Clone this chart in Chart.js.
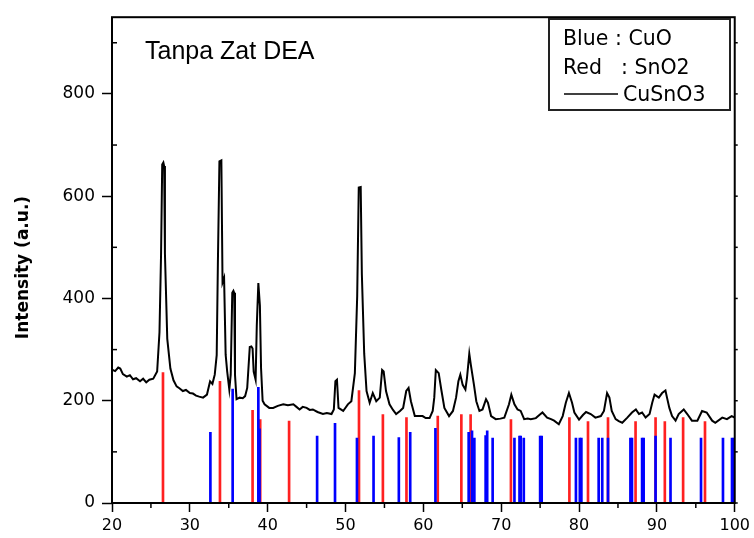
<!DOCTYPE html>
<html><head><meta charset="utf-8">
<script src="https://cdn.jsdelivr.net/npm/chart.js@4.4.1/dist/chart.umd.min.js"></script>
<style>html,body{margin:0;padding:0;background:#fff}#wrap{width:754px;height:538px}</style>
</head><body><div id="wrap"><canvas id="c" width="754" height="538"></canvas></div>
<script>
// Measured XRD pattern (CuSnO3)
const twoTheta = [20.0,20.4,20.8,21.06,21.4,21.9,22.3,22.7,23.1,23.6,24.0,24.4,24.8,25.3,25.8,26.1,26.3,26.45,26.6,26.7,26.8,27.1,27.5,27.9,28.3,28.7,29.1,29.5,30.0,30.4,30.8,31.2,31.7,32.2,32.6,32.9,33.2,33.45,33.6,33.8,34.05,34.2,34.4,34.6,34.8,35.07,35.25,35.45,35.6,35.7,35.8,36.0,36.4,36.8,37.1,37.37,37.7,37.9,38.06,38.2,38.45,38.6,38.8,39.0,39.15,39.35,39.6,40.2,40.7,41.3,42.0,42.6,43.3,43.7,44.1,44.5,45.0,45.4,45.8,46.4,47.1,47.6,48.2,48.5,48.7,48.9,49.1,49.7,50.3,50.75,51.2,51.5,51.7,51.95,52.1,52.4,52.7,53.1,53.5,53.95,54.4,54.7,54.9,55.2,55.65,56.1,56.5,57.0,57.4,57.8,58.1,58.4,58.9,59.5,59.9,60.3,60.8,61.2,61.4,61.6,61.97,62.3,62.7,63.3,63.8,64.2,64.5,64.75,65.05,65.4,65.6,65.9,66.1,66.5,66.8,67.2,67.6,68.05,68.3,68.7,69.3,69.9,70.4,71.0,71.3,71.7,72.1,72.5,72.95,73.4,73.8,74.45,74.9,75.3,75.9,76.4,76.8,77.4,77.9,78.3,78.7,79.1,79.4,80.0,80.5,80.9,81.5,82.1,82.8,83.2,83.6,83.9,84.2,84.7,85.1,85.55,86.2,86.8,87.3,87.7,88.1,88.55,89.06,89.4,89.7,90.25,90.67,91.1,91.3,91.6,91.95,92.4,92.8,93.45,93.9,94.5,95.2,95.8,96.4,97.1,97.5,98.4,99.0,99.6,100.0];
const intensity = [261,258,265,263,252,247,250,242,244,238,243,236,241,243,257,334,485,662,666,659,488,321,263,240,228,224,219,221,215,214,210,208,206,212,238,233,251,289,466,668,670,431,440,290,257,222,251,411,415,411,251,203,206,205,209,225,305,306,302,257,241,347,430,386,263,200,193,186,186,190,193,191,193,188,183,188,186,182,183,178,174,176,174,183,238,241,186,180,193,199,254,405,617,618,447,292,219,196,215,199,206,260,257,219,193,182,174,180,186,219,225,199,170,170,170,166,166,180,206,260,254,222,186,170,180,206,238,251,231,222,244,292,270,231,199,180,183,203,196,170,164,165,167,193,212,193,183,180,164,165,164,166,172,177,167,164,161,154,170,196,215,196,177,163,172,178,174,167,170,180,215,206,180,164,160,157,167,177,183,174,177,167,174,196,212,206,215,220,206,186,170,161,174,183,174,161,161,180,177,161,157,167,164,170,167];

// Reference stick patterns
const cuoPos = [32.64,35.5,38.8,38.95,46.35,48.65,51.47,53.6,56.85,58.31,61.55,65.82,66.25,66.55,68.0,68.2,68.9,71.7,72.35,72.5,72.9,75.0,75.2,79.6,80.1,80.3,82.52,82.98,83.72,86.6,86.8,88.1,88.3,89.83,91.75,95.67,98.49,99.65,99.9];
const cuoInt = [138,223,226,145,131,156,127,131,128,138,146,138,141,127,132,141,127,127,131,131,127,131,131,127,127,127,127,127,127,127,127,127,127,131,127,127,127,127,127];
const sno2Pos = [26.55,33.87,38.06,39.04,42.75,51.73,54.8,57.83,61.85,64.88,66.07,71.25,78.76,81.15,83.72,87.26,89.83,91.02,93.37,96.18];
const sno2Int = [255,238,181,163,160,220,173,167,170,173,173,163,167,159,167,159,167,159,167,159];

const xTicks = [20,30,40,50,60,70,80,90,100];
const xMinor = [25,35,45,55,65,75,85,95];
const yTicks = [0,200,400,600,800];
const yMinor = [100,300,500,700,900];
const sampleLabel = 'Tanpa Zat DEA';
const yTitle = 'Intensity (a.u.)';

const pts = (xs, ys) => xs.map((v, i) => ({x: v, y: ys[i]}));

const decor = {
  id: 'decor',
  afterDraw(chart) {
    const {ctx, chartArea: a, scales: {x, y}} = chart;
    const line = (x1, y1, x2, y2) => { ctx.beginPath(); ctx.moveTo(x1, y1); ctx.lineTo(x2, y2); ctx.stroke(); };
    ctx.save();
    ctx.strokeStyle = '#000';
    ctx.lineWidth = 2;
    ctx.strokeRect(a.left, a.top, a.right - a.left, a.bottom - a.top);
    ctx.lineWidth = 1.5;
    xMinor.forEach(v => { const p = x.getPixelForValue(v); line(p, a.bottom, p, a.bottom + 5); });
    yMinor.forEach(v => { const p = y.getPixelForValue(v); line(a.left, p, a.left + 5, p); });
    yTicks.concat(yMinor).forEach(v => { const p = y.getPixelForValue(v); line(a.right, p, a.right + 3, p); });

    ctx.fillStyle = '#000';
    ctx.textBaseline = 'alphabetic';
    ctx.textAlign = 'left';
    ctx.font = '25px "Liberation Sans", Arial, sans-serif';
    ctx.fillText(sampleLabel, 145, 59);

    // legend box
    ctx.lineWidth = 2;
    ctx.strokeStyle = '#222';
    ctx.strokeRect(549, 19, 181, 91);
    ctx.font = '20.5px "DejaVu Sans", sans-serif';
    ctx.fillText('Blue', 563, 45);
    ctx.fillText(': CuO', 615, 45);
    ctx.fillText('Red', 563, 74);
    ctx.fillText(': SnO2', 621, 74);
    ctx.strokeStyle = '#000';
    ctx.lineWidth = 1.5;
    line(564, 94, 618, 94);
    ctx.fillText('CuSnO3', 623, 101);

    // y axis title
    ctx.translate(24, 267.5);
    ctx.rotate(-Math.PI / 2);
    ctx.textAlign = 'center';
    ctx.textBaseline = 'middle';
    ctx.font = 'bold 17px "DejaVu Sans", sans-serif';
    ctx.fillText(yTitle, 0, 0);
    ctx.restore();
  }
};

new Chart(document.getElementById('c'), {
  type: 'bar',
  data: {
    datasets: [
      {type: 'line', label: 'CuSnO3', data: pts(twoTheta, intensity), borderColor: '#000', borderWidth: 2, pointRadius: 0, tension: 0, fill: false, order: 1},
      {type: 'bar', label: 'CuO', data: pts(cuoPos, cuoInt), backgroundColor: '#0000ff', barThickness: 2, grouped: false, order: 2},
      {type: 'bar', label: 'SnO2', data: pts(sno2Pos, sno2Int), backgroundColor: '#ff2020', barThickness: 2, grouped: false, order: 3}
    ]
  },
  options: {
    responsive: false,
    animation: false,
    layout: {padding: {top: 12, right: 18, left: 0, bottom: 0}},
    plugins: {legend: {display: false}, tooltip: {enabled: false}},
    scales: {
      x: {
        type: 'linear', min: 20, max: 100, offset: false,
        afterFit(s) { s.height = 35; },
        afterBuildTicks(s) { s.ticks = xTicks.map(v => ({value: v})); },
        grid: {display: true, offset: false, drawOnChartArea: false, drawTicks: true, tickLength: 9, tickColor: '#000', tickWidth: 1.5},
        border: {display: false},
        ticks: {color: '#000', padding: 4, maxRotation: 0, autoSkip: false, font: {family: '"DejaVu Sans", sans-serif', size: 16}}
      },
      y: {
        type: 'linear', min: 0, max: 950,
        afterFit(s) { s.width = 112; },
        afterBuildTicks(s) { s.ticks = yTicks.map(v => ({value: v})); },
        grid: {display: true, drawOnChartArea: false, drawTicks: true, tickLength: 10, tickColor: '#000', tickWidth: 1.5},
        border: {display: false},
        ticks: {color: '#000', padding: 7, font: {family: '"DejaVu Sans", sans-serif', size: 17}}
      }
    }
  },
  plugins: [decor]
});
</script>
</body></html>
